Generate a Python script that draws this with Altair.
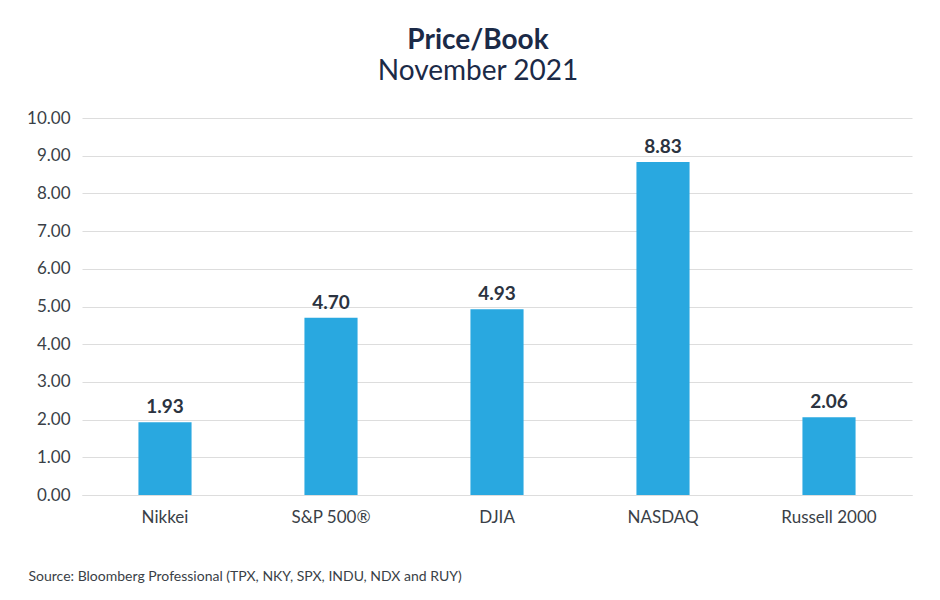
import altair as alt
import pandas as pd

indices = ["Nikkei", "S&P 500®", "DJIA", "NASDAQ", "Russell 2000"]
price_book = [1.93, 4.70, 4.93, 8.83, 2.06]
y_ticks = [0, 1, 2, 3, 4, 5, 6, 7, 8, 9, 10]

df = pd.DataFrame({"index": indices, "pb": price_book})

FONT = "Lato"
NAVY = "#1b2a47"
GREY = "#3a3f47"

base = alt.Chart(df).encode(
    x=alt.X(
        "index:N",
        sort=indices,
        scale=alt.Scale(paddingInner=0.68, paddingOuter=0.34),
        axis=alt.Axis(
            title="Source: Bloomberg Professional (TPX, NKY, SPX, INDU, NDX and RUY)",
            titleFont=FONT, titleFontSize=14, titleFontWeight="normal", titleColor=GREY,
            titleAnchor="start", titleAlign="left", titleX=-54, titleY=85,
            titleBaseline="alphabetic",
            labelFont=FONT, labelFontSize=17, labelColor=GREY, labelPadding=14,
            labelAngle=0, ticks=False, domain=True, domainColor="#dddddd",
        ),
    ),
    y=alt.Y(
        "pb:Q",
        scale=alt.Scale(domain=[0, 10], nice=False),
        axis=alt.Axis(
            title=None, values=y_ticks, format=".2f",
            labelFont=FONT, labelFontSize=17, labelColor=GREY, labelPadding=12,
            ticks=False, domain=False, grid=True, gridColor="#dddddd",
        ),
    ),
)

bars = base.mark_bar(color="#29a8e0")
labels = base.mark_text(
    baseline="alphabetic", dy=-9, font=FONT, fontSize=19, fontWeight="bold", color="#2b3340"
).encode(text=alt.Text("pb:Q", format=".2f"))

chart = (
    (bars + labels)
    .properties(
        width=830,
        height=377,
        autosize=alt.AutoSizeParams(type="none"),
        padding={"left": 74, "top": 110, "right": 20, "bottom": 90},
        title=alt.TitleParams(
            text="Price/Book",
            subtitle="November 2021",
            font=FONT, fontSize=28, fontWeight="bold", color=NAVY,
            subtitleFont=FONT, subtitleFontSize=28, subtitleColor=NAVY,
            subtitlePadding=3, anchor="middle", dx=-19, offset=23,
        ),
    )
    .configure_view(stroke=None)
)

chart.save("out.html", embed_options={"renderer": "svg", "actions": False})
